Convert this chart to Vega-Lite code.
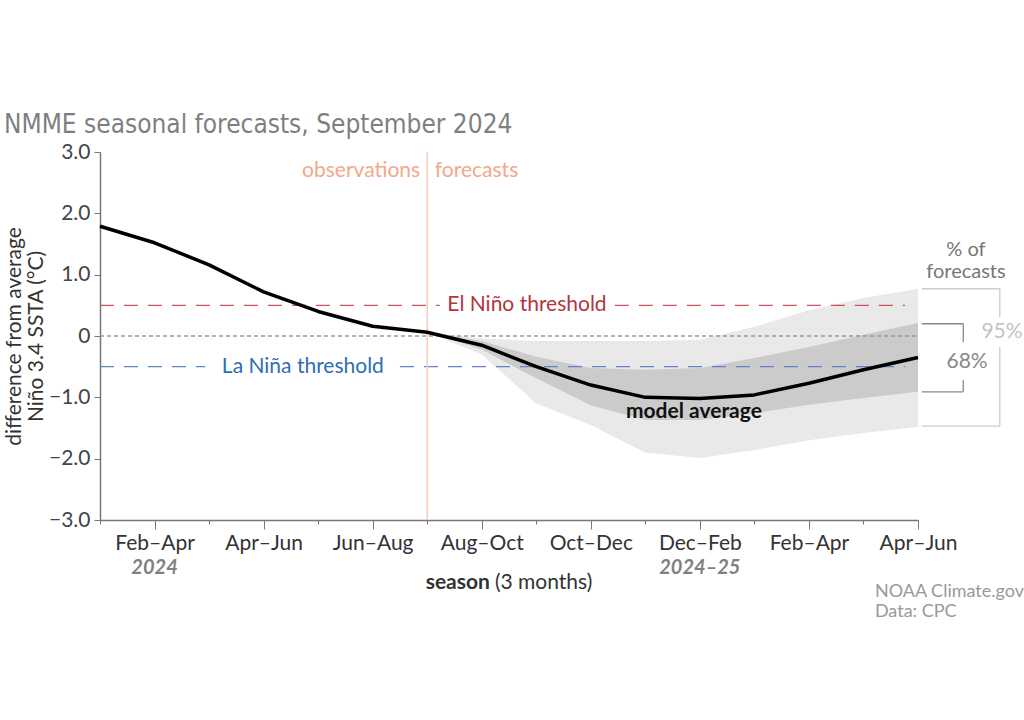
{
  "$schema": "https://vega.github.io/schema/vega-lite/v6.json",
  "width": 818,
  "height": 368,
  "autosize": {"type": "none"},
  "padding": {"left": 100, "top": 152, "right": 106, "bottom": 200},
  "background": "white",
  "view": {"stroke": null},
  "config": {"font": "Lato", "text": {"font": "Lato"}},
  "title": {
    "text": "NMME seasonal forecasts, September 2024",
    "anchor": "start",
    "frame": "group",
    "dx": -96,
    "offset": 3,
    "font": "Liberation Sans Narrow, DejaVu Sans Condensed, Lato",
    "fontSize": 26,
    "fontWeight": "normal",
    "color": "#7f7f7f"
  },
  "data": {
    "values": [
      {"i": 0, "season": "Jan–Mar 2024", "value": 1.79},
      {"i": 1, "season": "Feb–Apr 2024", "value": 1.52},
      {"i": 2, "season": "Mar–May 2024", "value": 1.16},
      {"i": 3, "season": "Apr–Jun 2024", "value": 0.72},
      {"i": 4, "season": "May–Jul 2024", "value": 0.40},
      {"i": 5, "season": "Jun–Aug 2024", "value": 0.16},
      {"i": 6, "season": "Jul–Sep 2024", "value": 0.06, "lo95": 0.06, "hi95": 0.06, "lo68": 0.06, "hi68": 0.06},
      {"i": 7, "season": "Aug–Oct 2024", "value": -0.15, "lo95": -0.30, "hi95": -0.04, "lo68": -0.22, "hi68": -0.08},
      {"i": 8, "season": "Sep–Nov 2024", "value": -0.50, "lo95": -1.10, "hi95": -0.08, "lo68": -0.69, "hi68": -0.34},
      {"i": 9, "season": "Oct–Dec 2024", "value": -0.80, "lo95": -1.45, "hi95": -0.08, "lo68": -1.13, "hi68": -0.52},
      {"i": 10, "season": "Nov–Jan 2024–25", "value": -1.00, "lo95": -1.90, "hi95": -0.08, "lo68": -1.37, "hi68": -0.55},
      {"i": 11, "season": "Dec–Feb 2024–25", "value": -1.02, "lo95": -1.99, "hi95": -0.06, "lo68": -1.37, "hi68": -0.52},
      {"i": 12, "season": "Jan–Mar 2025", "value": -0.96, "lo95": -1.86, "hi95": 0.15, "lo68": -1.26, "hi68": -0.36},
      {"i": 13, "season": "Feb–Apr 2025", "value": -0.77, "lo95": -1.70, "hi95": 0.42, "lo68": -1.12, "hi68": -0.18},
      {"i": 14, "season": "Mar–May 2025", "value": -0.55, "lo95": -1.58, "hi95": 0.62, "lo68": -1.01, "hi68": 0.02},
      {"i": 15, "season": "Apr–Jun 2025", "value": -0.35, "lo95": -1.48, "hi95": 0.77, "lo68": -0.91, "hi68": 0.21}
    ]
  },
  "layer": [
    {
      "transform": [{"filter": "isValid(datum.lo95)"}],
      "mark": {"type": "area", "color": "#e9e9e9"},
      "encoding": {
        "x": {
          "field": "i", "type": "quantitative",
          "scale": {"domain": [0, 15], "nice": false, "zero": false},
          "axis": {
            "title": null,
            "grid": false,
            "values": [0, 1, 2, 3, 4, 5, 6, 7, 8, 9, 10, 11, 12, 13, 14, 15],
            "labelExpr": "['', 'Feb–Apr', '', 'Apr–Jun', '', 'Jun–Aug', '', 'Aug–Oct', '', 'Oct–Dec', '', 'Dec–Feb', '', 'Feb–Apr', '', 'Apr–Jun'][datum.value]",
            "tickSize": {"condition": {"test": "datum.value % 2 == 1", "value": 9}, "value": 4},
            "tickColor": "#777",
            "domainColor": "#777",
            "domainWidth": 1.5,
            "labelFont": "Lato",
            "labelFontSize": 21,
            "labelColor": "#333",
            "labelPadding": 3,
            "labelOverlap": false,
            "labelFlush": false
          }
        },
        "y": {
          "field": "lo95", "type": "quantitative",
          "scale": {"domain": [-3, 3], "nice": false},
          "axis": {
            "values": [-3, -2, -1, 0, 1, 2, 3],
            "labelExpr": "datum.value == 0 ? '0' : format(datum.value, '.1f')",
            "grid": false,
            "tickSize": 6,
            "tickColor": "#777",
            "domainColor": "#777",
            "domainWidth": 1.5,
            "labelFont": "Lato",
            "labelFontSize": 21,
            "labelColor": "#444",
            "labelPadding": 4,
            "title": ["difference from average", "Niño 3.4 SSTA (°C)"],
            "titleFont": "Lato",
            "titleFontSize": 21,
            "titleFontWeight": "normal",
            "titleColor": "#333",
            "titlePadding": 2,
            "titleLineHeight": 22
          }
        },
        "y2": {"field": "hi95"}
      }
    },
    {
      "transform": [{"filter": "isValid(datum.lo68)"}],
      "mark": {"type": "area", "color": "#cbcbcb"},
      "encoding": {
        "x": {"field": "i", "type": "quantitative"},
        "y": {"field": "lo68", "type": "quantitative"},
        "y2": {"field": "hi68"}
      }
    },
    {
      "data": {"values": [{}]},
      "mark": {"type": "rule", "color": "#999", "strokeDash": [4, 3], "strokeWidth": 1.3},
      "encoding": {"x": {"datum": 0}, "x2": {"datum": 15}, "y": {"datum": 0}}
    },
    {
      "data": {"values": [{}]},
      "mark": {"type": "rule", "color": "#c9565a", "strokeDash": [14, 10], "strokeWidth": 1.3},
      "encoding": {"x": {"datum": 0}, "x2": {"datum": 6.23}, "y": {"datum": 0.5}}
    },
    {
      "data": {"values": [{}]},
      "mark": {"type": "rule", "color": "#c9565a", "strokeDash": [14, 10], "strokeWidth": 1.3},
      "encoding": {"x": {"datum": 9.44}, "x2": {"datum": 14.76}, "y": {"datum": 0.5}}
    },
    {
      "data": {"values": [{}]},
      "mark": {"type": "rule", "color": "#5b86c2", "strokeDash": [14, 10], "strokeWidth": 1.3},
      "encoding": {"x": {"datum": 0}, "x2": {"datum": 1.93}, "y": {"datum": -0.5}}
    },
    {
      "data": {"values": [{}]},
      "mark": {"type": "rule", "color": "#5b86c2", "strokeDash": [14, 10], "strokeWidth": 1.3},
      "encoding": {"x": {"datum": 5.5}, "x2": {"datum": 14.76}, "y": {"datum": -0.5}}
    },
    {
      "data": {"values": [{}]},
      "mark": {"type": "rule", "color": "#f5cdb8", "strokeWidth": 1.5},
      "encoding": {"x": {"datum": 6}}
    },
    {
      "mark": {"type": "line", "color": "#000", "strokeWidth": 3.5, "strokeJoin": "round"},
      "encoding": {
        "x": {"field": "i", "type": "quantitative"},
        "y": {"field": "value", "type": "quantitative"}
      }
    },
    {
      "data": {"values": [{}]},
      "mark": {"type": "text", "font": "Lato", "fontSize": 21, "color": "#f0a98a", "align": "right", "baseline": "middle"},
      "encoding": {"x": {"datum": 5.87}, "y": {"datum": 2.69}, "text": {"value": "observations"}}
    },
    {
      "data": {"values": [{}]},
      "mark": {"type": "text", "font": "Lato", "fontSize": 21, "color": "#f0a98a", "align": "left", "baseline": "middle"},
      "encoding": {"x": {"datum": 6.14}, "y": {"datum": 2.69}, "text": {"value": "forecasts"}}
    },
    {
      "data": {"values": [{}]},
      "mark": {"type": "text", "font": "Lato", "fontSize": 21, "color": "#b2353c", "align": "center", "baseline": "middle"},
      "encoding": {"x": {"datum": 7.83}, "y": {"datum": 0.5}, "text": {"value": "El Niño threshold"}}
    },
    {
      "data": {"values": [{}]},
      "mark": {"type": "text", "font": "Lato", "fontSize": 21, "color": "#2f6db5", "align": "center", "baseline": "middle"},
      "encoding": {"x": {"datum": 3.72}, "y": {"datum": -0.5}, "text": {"value": "La Niña threshold"}}
    },
    {
      "data": {"values": [{}]},
      "mark": {"type": "text", "font": "Lato", "fontSize": 21, "fontWeight": "bold", "color": "#111", "align": "center", "baseline": "middle"},
      "encoding": {"x": {"datum": 10.89}, "y": {"datum": -1.24}, "text": {"value": "model average"}}
    },
    {
      "data": {"values": [{}]},
      "mark": {"type": "text", "font": "Lato", "fontSize": 20, "color": "#777", "align": "center", "baseline": "middle", "lineHeight": 22},
      "encoding": {"x": {"datum": 15.88}, "y": {"datum": 1.4}, "text": {"value": ["% of", "forecasts"]}}
    },
    {
      "data": {"values": [{}]},
      "mark": {"type": "rule", "color": "#cccccc", "strokeWidth": 1.3},
      "encoding": {"x": {"datum": 15.07}, "x2": {"datum": 16.5}, "y": {"datum": 0.77}}
    },
    {
      "data": {"values": [{}]},
      "mark": {"type": "rule", "color": "#cccccc", "strokeWidth": 1.3},
      "encoding": {"x": {"datum": 15.07}, "x2": {"datum": 16.5}, "y": {"datum": -1.47}}
    },
    {
      "data": {"values": [{}]},
      "mark": {"type": "rule", "color": "#cccccc", "strokeWidth": 1.3},
      "encoding": {"x": {"datum": 16.5}, "y": {"datum": 0.77}, "y2": {"datum": 0.3}}
    },
    {
      "data": {"values": [{}]},
      "mark": {"type": "rule", "color": "#cccccc", "strokeWidth": 1.3},
      "encoding": {"x": {"datum": 16.5}, "y": {"datum": -0.18}, "y2": {"datum": -1.47}}
    },
    {
      "data": {"values": [{}]},
      "mark": {"type": "text", "font": "Lato", "fontSize": 21, "color": "#c4c4c4", "align": "center", "baseline": "middle"},
      "encoding": {"x": {"datum": 16.54}, "y": {"datum": 0.07}, "text": {"value": "95%"}}
    },
    {
      "data": {"values": [{}]},
      "mark": {"type": "rule", "color": "#888", "strokeWidth": 1.3},
      "encoding": {"x": {"datum": 15.07}, "x2": {"datum": 15.83}, "y": {"datum": 0.2}}
    },
    {
      "data": {"values": [{}]},
      "mark": {"type": "rule", "color": "#888", "strokeWidth": 1.3},
      "encoding": {"x": {"datum": 15.07}, "x2": {"datum": 15.83}, "y": {"datum": -0.91}}
    },
    {
      "data": {"values": [{}]},
      "mark": {"type": "rule", "color": "#888", "strokeWidth": 1.3},
      "encoding": {"x": {"datum": 15.83}, "y": {"datum": 0.2}, "y2": {"datum": -0.1}}
    },
    {
      "data": {"values": [{}]},
      "mark": {"type": "rule", "color": "#888", "strokeWidth": 1.3},
      "encoding": {"x": {"datum": 15.83}, "y": {"datum": -0.72}, "y2": {"datum": -0.91}}
    },
    {
      "data": {"values": [{}]},
      "mark": {"type": "text", "font": "Lato", "fontSize": 21, "color": "#888", "align": "center", "baseline": "middle"},
      "encoding": {"x": {"datum": 15.9}, "y": {"datum": -0.42}, "text": {"value": "68%"}}
    },
    {
      "data": {"values": [{}]},
      "mark": {"type": "text", "font": "Lato", "fontSize": 20, "fontWeight": "bold", "fontStyle": "italic", "color": "#808080", "align": "center", "baseline": "middle"},
      "encoding": {"x": {"datum": 1}, "y": {"datum": -3.79}, "text": {"value": "2024"}}
    },
    {
      "data": {"values": [{}]},
      "mark": {"type": "text", "font": "Lato", "fontSize": 20, "fontWeight": "bold", "fontStyle": "italic", "color": "#808080", "align": "center", "baseline": "middle"},
      "encoding": {"x": {"datum": 11}, "y": {"datum": -3.79}, "text": {"value": "2024–25"}}
    },
    {
      "data": {"values": [{}]},
      "mark": {"type": "text", "font": "Lato", "fontSize": 21, "fontWeight": "bold", "color": "#333", "align": "right", "baseline": "middle"},
      "encoding": {"x": {"datum": 7.15}, "y": {"datum": -4.03}, "text": {"value": "season"}}
    },
    {
      "data": {"values": [{}]},
      "mark": {"type": "text", "font": "Lato", "fontSize": 21, "color": "#333", "align": "left", "baseline": "middle", "dx": 5},
      "encoding": {"x": {"datum": 7.15}, "y": {"datum": -4.03}, "text": {"value": "(3 months)"}}
    },
    {
      "data": {"values": [{}]},
      "mark": {"type": "text", "font": "Lato", "fontSize": 18, "color": "#999", "align": "left", "baseline": "middle", "lineHeight": 20},
      "encoding": {"x": {"datum": 14.21}, "y": {"datum": -4.17}, "text": {"value": ["NOAA Climate.gov", "Data: CPC"]}}
    }
  ]
}
